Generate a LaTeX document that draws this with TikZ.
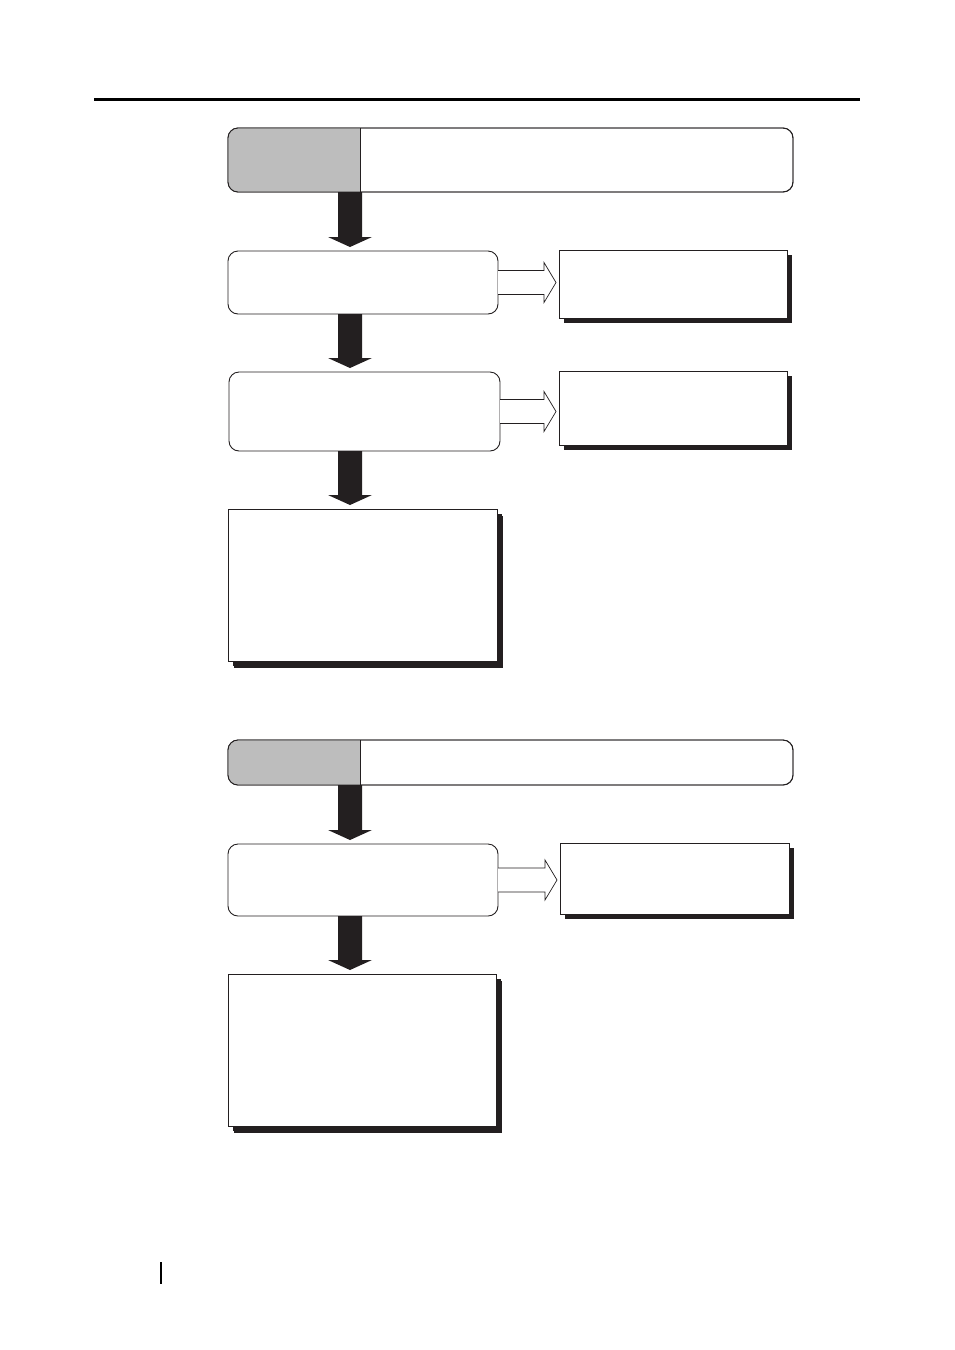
\documentclass[tikz,border=0pt]{standalone}
\usetikzlibrary{calc,shadows}
\definecolor{inkc}{HTML}{231F20}
\definecolor{greyc}{HTML}{BDBDBD}
\tikzset{
  base/.style={inner sep=0pt, outer sep=0pt, anchor=north west, draw=inkc, line width=0.9pt},
  roundbox/.style={base, fill=white, rounded corners=10pt},
  shadowbox/.style={base, fill=white, drop shadow={shadow xshift=5pt, shadow yshift=-5pt, fill=inkc, opacity=1}},
  headbox/.style={roundbox},
  thickarrow/.style={fill=inkc},
  hollowarrow/.style={draw=inkc, line width=0.7pt, fill=white, line join=miter},
  rule/.style={draw=black, line width=3pt}
}
\newcommand{\downarrowthick}[3]{% x-ref coordinate, from, to
  \fill[thickarrow] let \p1=(#1 |- #2.south), \p2=(#1 |- #3.north) in
    (\x1-12pt,\y1) -- (\x1+12pt,\y1) -- (\x1+12pt,\y2+14pt) -- (\x1+22pt,\y2+14pt)
    -- (\x1,\y2+4pt) -- (\x1-22pt,\y2+14pt) -- (\x1-12pt,\y2+14pt) -- cycle;}
\newcommand{\rightarrowhollow}[2]{% from, to
  \draw[hollowarrow] let \p1=(#1.east), \p2=(#2.west) in
    (\x1,\y1+12pt) -- (\x2-15pt,\y1+12pt) -- (\x2-15pt,\y1+20pt) -- (\x2-3pt,\y1)
    -- (\x2-15pt,\y1-20pt) -- (\x2-15pt,\y1-12pt) -- (\x1,\y1-12pt);}
\newcommand{\headsplit}[2]{% header node, split x coordinate
  \begin{scope}
    \clip (#1.north west) rectangle (#2 |- #1.south);
    \fill[greyc, rounded corners=10pt] (#1.north west) rectangle (#1.south east);
  \end{scope}
  \draw[draw=inkc, line width=0.9pt] (#2 |- #1.north) -- (#2 |- #1.south);
  \draw[draw=inkc, line width=0.9pt, rounded corners=10pt] (#1.north west) rectangle (#1.south east);}
\begin{document}
\begin{tikzpicture}[x=1pt,y=-1pt]
\useasboundingbox (0,0) rectangle (954,1350);
\draw[rule] (94,99) coordinate (r1) -- (860,99) coordinate (r2);
\coordinate (ax) at (350,0);
\coordinate (sp) at (360,0);
% section 1
\node[headbox, minimum width=565pt, minimum height=64pt] (h1) at (228,128) {};
\headsplit{h1}{sp}
\node[roundbox, minimum width=270pt, minimum height=63pt] (A) at (228,251) {};
\node[shadowbox, minimum width=228pt, minimum height=68pt] (B) at (559,250) {};
\node[roundbox, minimum width=271pt, minimum height=79pt] (C) at (229,372) {};
\node[shadowbox, minimum width=228pt, minimum height=74pt] (D) at (559,371) {};
\node[shadowbox, drop shadow={shadow xshift=6pt, shadow yshift=-7pt, fill=inkc, opacity=1}, minimum width=269pt, minimum height=152pt] (E) at (228,509) {};
\downarrowthick{ax}{h1}{A}
\downarrowthick{ax}{A}{C}
\downarrowthick{ax}{C}{E}
\rightarrowhollow{A}{B}
\rightarrowhollow{C}{D}
% section 2
\node[headbox, minimum width=565pt, minimum height=45pt] (h2) at (228,740) {};
\headsplit{h2}{sp}
\node[roundbox, minimum width=270pt, minimum height=72pt] (F) at (228,844) {};
\node[shadowbox, minimum width=229pt, minimum height=71pt] (G) at (560,843) {};
\node[shadowbox, drop shadow={shadow xshift=6pt, shadow yshift=-7pt, fill=inkc, opacity=1}, minimum width=268pt, minimum height=152pt] (H) at (228,974) {};
\downarrowthick{ax}{h2}{F}
\downarrowthick{ax}{F}{H}
\rightarrowhollow{F}{G}
% page mark
\draw[draw=black, line width=2pt] (161,1262) coordinate (m1) -- (161,1284) coordinate (m2);
\end{tikzpicture}
\end{document}
